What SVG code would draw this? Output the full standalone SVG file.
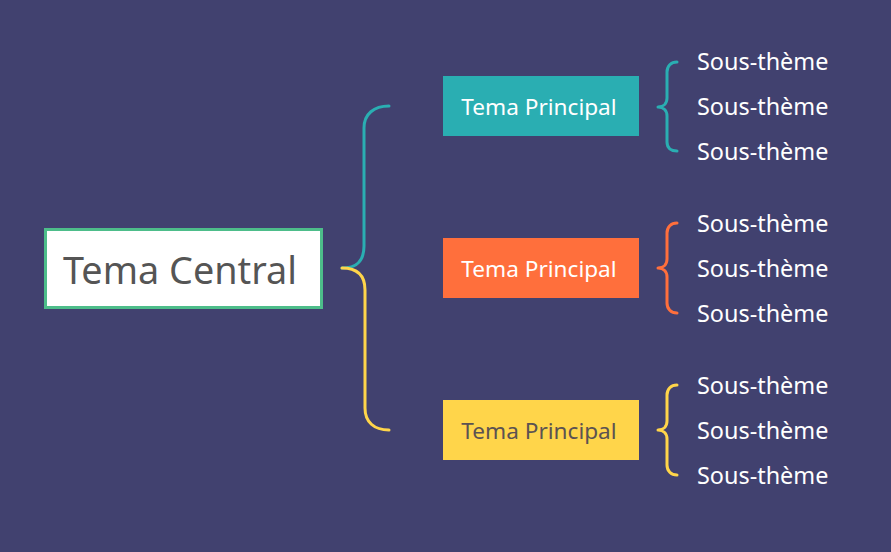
<svg xmlns="http://www.w3.org/2000/svg" width="891" height="552" viewBox="0 0 891 552">
<style>
.sub{font-family:"Segoe UI","Noto Sans","Open Sans",sans-serif;font-size:23.4px;fill:#ffffff}
.main{font-family:"Segoe UI","Noto Sans","Open Sans",sans-serif;font-size:22.6px;text-anchor:middle}
.con{fill:none;stroke-width:3;stroke-linecap:round;stroke-linejoin:round}
</style>
<rect width="891" height="552" fill="#41416f"/>
<g id="connectors">
<path class="con" stroke="#2aaeb2" d="M342,268 C356,268 364,262 364,246 L364,128 C364,114 374,106 389,106"/>
<path class="con" stroke="#ffd54a" d="M342,268 C356,268 365,274 365,290 L365,408 C365,422 374,430 389,430"/>
<path class="con" stroke="#2aaeb2" d="M677,62 C671,62 667,66 667,72 L667,98 C667,104 663,107 658,107 C663,107 667,110 667,116 L667,142 C667,148 671,151 677,151"/>
<path class="con" stroke="#ff6f3c" d="M677,223 C671,223 667,227 667,233 L667,259 C667,265 663,268 658,268 C663,268 667,271 667,277 L667,303 C667,309 671,313 677,313"/>
<path class="con" stroke="#ffd54a" d="M677,385 C671,385 667,389 667,395 L667,421 C667,427 663,430 658,430 C663,430 667,433 667,439 L667,465 C667,471 671,475 677,475"/>
</g>
<g id="central">
<rect x="45.5" y="229.5" width="276" height="78" fill="#ffffff" stroke="#4dbd8a" stroke-width="3"/>
<text x="180" y="284" font-family="Segoe UI,Noto Sans,Open Sans,sans-serif" font-size="37.8" fill="#555555" text-anchor="middle">Tema Central</text>
</g>
<g id="main1">
<rect x="443" y="76" width="196" height="60" fill="#2aaeb2"/>
<text class="main" x="539" y="115" fill="#ffffff">Tema Principal</text>
</g>
<g id="main2">
<rect x="443" y="238" width="196" height="60" fill="#ff6f3c"/>
<text class="main" x="539" y="277" fill="#ffffff">Tema Principal</text>
</g>
<g id="main3">
<rect x="443" y="400" width="196" height="60" fill="#ffd54a"/>
<text class="main" x="539" y="439" fill="#5c5252">Tema Principal</text>
</g>
<g id="subs1">
<text class="sub" x="697" y="70">Sous-thème</text>
<text class="sub" x="697" y="115">Sous-thème</text>
<text class="sub" x="697" y="160">Sous-thème</text>
</g>
<g id="subs2">
<text class="sub" x="697" y="232">Sous-thème</text>
<text class="sub" x="697" y="277">Sous-thème</text>
<text class="sub" x="697" y="322">Sous-thème</text>
</g>
<g id="subs3">
<text class="sub" x="697" y="394">Sous-thème</text>
<text class="sub" x="697" y="439">Sous-thème</text>
<text class="sub" x="697" y="484">Sous-thème</text>
</g>
</svg>
